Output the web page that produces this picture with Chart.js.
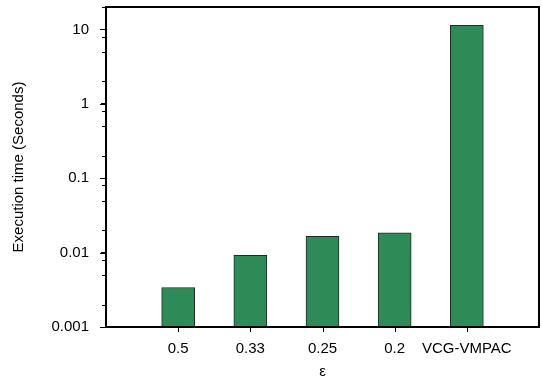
<!DOCTYPE html>
<html>
<head>
<meta charset="utf-8">
<script src="https://cdn.jsdelivr.net/npm/chart.js@4"></script>
<style>
    html, body { margin: 0; padding: 0; background: #fff; }
</style>
</head>
<body>
<canvas id="chart" width="542" height="381"></canvas>
<script>
const categories = ['0.5', '0.33', '0.25', '0.2', 'VCG-VMPAC'];
const executionTimes = [0.0034, 0.0092, 0.0166, 0.0185, 11.3];
const yTickValues = [0.001, 0.01, 0.1, 1, 10];
const yTickLabels = ['0.001', '0.01', '0.1', '1', '10'];
const yMinorSteps = [2, 5, 8];

// empty slots at both ends give the wide margins of the original
const labels = ['', ...categories, ''];
const values = [null, ...executionTimes, null];

const font = { family: 'Liberation Sans, Arial, sans-serif', size: 15 };
const textColor = '#000';

const whiteBackground = {
    id: 'whiteBackground',
    beforeDraw(chart) {
        const ctx = chart.ctx;
        ctx.save();
        ctx.fillStyle = '#fff';
        ctx.fillRect(0, 0, chart.width, chart.height);
        ctx.restore();
    },
};

// box round the plot, category ticks and the short minor ticks on the y axis
const frameAndTicks = {
    id: 'frameAndTicks',
    afterDraw(chart) {
        const ctx = chart.ctx;
        const area = chart.chartArea;
        const xScale = chart.scales.x;
        const yScale = chart.scales.y;
        const l = Math.round(area.left);
        const t = Math.round(area.top);
        const r = Math.round(area.right);
        const b = Math.round(area.bottom);
        ctx.save();
        ctx.fillStyle = '#000';
        ctx.fillRect(l - 1, t - 1, r - l + 2, 2);
        ctx.fillRect(r - 1, t - 1, 2, b - t + 2);
        ctx.fillRect(l - 1, t - 1, 2, b - t + 2);
        ctx.fillRect(l - 1, b - 1, r - l + 2, 2);
        for (let i = 1; i <= categories.length; i++) {
            const x = Math.round(xScale.getPixelForValue(i));
            ctx.fillRect(x, b, 1, 5);
        }
        for (const major of yTickValues) {
            const y = Math.round(yScale.getPixelForValue(major));
            ctx.fillRect(l - 6, y, 6, 1);
            for (const step of yMinorSteps) {
                const v = major * step;
                if (v > yScale.max) continue;
                const ym = Math.round(yScale.getPixelForValue(v));
                ctx.fillRect(l - 4, ym, 4, 1);
            }
        }
        ctx.restore();
    },
};

new Chart(document.getElementById('chart'), {
    type: 'bar',
    data: {
        labels: labels,
        datasets: [
            {
                data: values,
                backgroundColor: '#2e8b57',
                borderColor: '#1f2a23',
                borderWidth: 1,
                barThickness: 33,
            },
        ],
    },
    options: {
        responsive: false,
        animation: false,
        devicePixelRatio: 1,
        layout: { padding: { top: 7, right: 3, left: 0, bottom: 0 } },
        plugins: {
            legend: { display: false },
            tooltip: { enabled: false },
        },
        scales: {
            x: {
                type: 'category',
                offset: false,
                afterFit: (scale) => {
                    scale.height = 54;
                    scale.paddingLeft = 0;
                    scale.paddingRight = 0;
                },
                ticks: { padding: 9, color: textColor, font: font, autoSkip: false, maxRotation: 0 },
                grid: {
                    offset: false,
                    drawOnChartArea: false,
                    tickLength: 4,
                    tickColor: 'rgba(0,0,0,0)',
                },
                border: { color: '#000', width: 1.5 },
                title: { display: true, text: 'ε', color: textColor, font: font, padding: 0 },
            },
            y: {
                type: 'logarithmic',
                min: 0.001,
                max: 20,
                afterBuildTicks: (scale) => {
                    scale.ticks = yTickValues.map((v) => ({ value: v }));
                },
                afterFit: (scale) => {
                    scale.width = 106;
                    scale.paddingTop = 0;
                    scale.paddingBottom = 0;
                },
                ticks: {
                    autoSkip: false,
                    padding: 12,
                    color: textColor,
                    font: font,
                    callback: (value) => {
                        const i = yTickValues.indexOf(value);
                        return i >= 0 ? yTickLabels[i] : '';
                    },
                },
                grid: { drawOnChartArea: false, tickLength: 5, tickColor: '#000' },
                border: { color: '#000', width: 1.5 },
                title: {
                    display: true,
                    text: 'Execution time (Seconds)',
                    color: textColor,
                    font: font,
                    padding: { top: 10, bottom: 0 },
                },
            },
        },
    },
    plugins: [whiteBackground, frameAndTicks],
});
</script>
</body>
</html>
